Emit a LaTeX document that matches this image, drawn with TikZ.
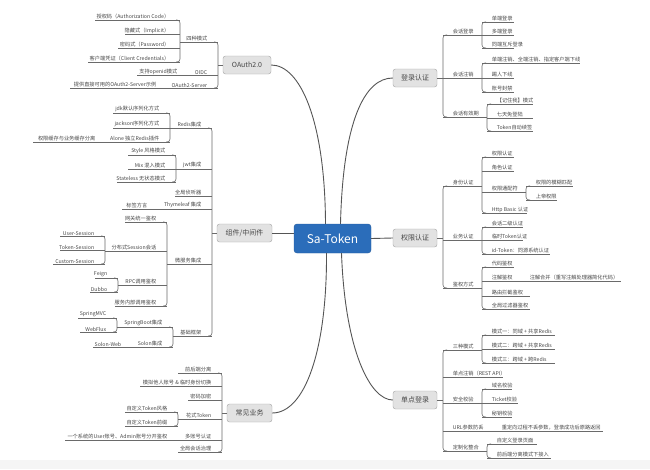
\documentclass[tikz,border=0pt]{standalone}
\usepackage{fontspec}
\setmainfont{Noto Sans CJK SC}
\usetikzlibrary{calc}
\definecolor{twiggray}{HTML}{6A6A6A}
\definecolor{inkgray}{HTML}{474747}
\definecolor{boxgray}{HTML}{E2E2E2}
\definecolor{boxline}{HTML}{A3A3A3}
\definecolor{hubblue}{HTML}{2B6DBA}
\newcommand{\rbrk}[3] {
  \draw[twig, rounded corners=3pt] (#1+4,#2) -- (#1,#2) -- (#1,#3) -- (#1+4,#3); % bracket, opens right
}
\newcommand{\lbrk}[3] {
  \draw[twig, rounded corners=3pt] (#1-4,#2) -- (#1,#2) -- (#1,#3) -- (#1-4,#3); % bracket, opens left
}
\newcommand{\rkids}[2] {
    \foreach \y/\xe/\nm/\txt in {#2} {
      \draw[twig] (#1,\y) -- (\xe,\y);
      \node[leaf, anchor=south west] (\nm) at (#1+9,\y) {\txt};
    }
}
\newcommand{\lkids}[2] {
    \foreach \y/\xs/\nm/\txt in {#2} {
      \draw[twig] (\xs,\y) -- (#1,\y);
      \node[leaf, anchor=south east] (\nm) at (#1-10,\y) {\txt};
    }
}

\begin{document}
\begin{tikzpicture}[x=1pt, y=-1pt,
    twig/.style={draw=twiggray, line width=0.6pt},
    limb/.style={draw=twiggray!80!black, line width=0.9pt},
    leaf/.style={inner sep=0.6pt, text=inkgray, font=\fontsize{5.2}{6}\selectfont},
    branch/.style={draw=boxline, fill=boxgray, rounded corners=2.5pt, minimum height=18pt,
      inner xsep=3pt, text=inkgray, font=\fontsize{7}{8}\selectfont},
    hub/.style={draw=hubblue!85!black, fill=hubblue, rounded corners=3pt, minimum width=77pt,
      minimum height=29pt, text=white, font=\fontsize{12}{14}\selectfont}]
    \useasboundingbox (0,0) rectangle (650,469);
    \fill[gray!8] (0,460) rectangle (650,469);

    \node[hub] (sa) at (332.5,238.5) {Sa-Token};
    \node[branch, minimum width=44pt] (login) at (415,78) {登录认证};
    \node[branch, minimum width=44pt] (perm) at (415,238) {权限认证};
    \node[branch, minimum width=44pt] (sso) at (415,400) {单点登录};
    \node[branch, minimum width=48pt] (oauth) at (247,65) {OAuth2.0};
    \node[branch, minimum width=55pt] (comp) at (244.5,233) {组件/中间件};
    \node[branch, minimum width=45pt] (biz) at (249.5,413) {常见业务};

    \draw[limb] ([xshift=-7pt]sa.north) .. controls (325,120) and (300,65) .. (oauth.east);
    \draw[limb] ([xshift=8pt]sa.north) .. controls (343,120) and (365,78) .. (login.west);
    \draw[limb] ([xshift=-6pt]sa.south) .. controls (327,350) and (305,413) .. (biz.east);
    \draw[limb] ([xshift=9pt]sa.south) .. controls (345,350) and (370,400) .. (sso.west);
    \draw[limb] (sa.east) -- (perm.west);
    \draw[limb] (comp.east) -- (comp.east -| sa.west);

    % 登录认证
    \draw[twig] (login.east) -- ++(6,0);
    \rbrk{443}{35}{117}
    \rkids{443}{35/482/lga/会话登录, 78/482/lgb/会话注销, 117/487/lgc/会话有效期}
    \rbrk{482}{22}{48}
    \rkids{482}{22/514/lga1/单端登录, 35/514/lga2/多端登录, 48/514/lga3/同端互斥登录}
    \rbrk{482}{63}{92}
    \rkids{482}{63/580/lgb1/单端注销、全端注销、指定客户端下线, 78/514/lgb2/踢人下线, 92/514/lgb3/账号封禁}
    \rbrk{487}{104}{131}
    \rkids{487}{104/533/lgc1/【记住我】模式, 118/533/lgc2/七天免登陆, 131/533/lgc3/Token自动续签}

    % 权限认证
    \draw[twig] (perm.east) -- ++(6,0);
    \rbrk{443}{186}{288}
    \rkids{443}{186/482/pma/身份认证, 240/482/pmb/业务认证, 288/482/pmc/鉴权方式}
    \rbrk{482}{157}{213}
    \rkids{482}{157/514/pma1/权限认证, 171/514/pma2/角色认证, 192/526/pma3/权限通配符, 213/527/pma4/Http Basic 认证}
    \rbrk{526}{186}{200}
    \rkids{526}{186/573/pma31/权限的模糊匹配, 200/557/pma32/上帝权限}
    \rbrk{482}{227}{254}
    \rkids{482}{227/523/pmb1/会话二级认证, 240/523/pmb2/临时Token认证, 254/550/pmb3/id-Token：同源系统认证}
    \rbrk{482}{267}{309}
    \rkids{482}{267/514/pmc1/代码鉴权, 281/621/pmc2/注解鉴权, 296/530/pmc3/路由拦截鉴权, 309/530/pmc4/全局过滤器鉴权}
    \node[leaf, anchor=south west] (pmc21) at (529,281) {注解合并（重写注解处理器简化代码）};

    % 单点登录
    \draw[twig] (sso.east) -- ++(6,0);
    \rbrk{443}{350}{451}
    \rkids{443}{350/482/soa/三种模式, 377/503/sob/单点注销（REST API）, 403/482/soc/安全校验, 431/603/sod/URL参数防丢, 451/487/soe/定制化整合}
    \node[leaf, anchor=south west] (sod1) at (501,431) {重定向过程不丢参数，登录成功后原路返回};
    \rbrk{482}{335}{363}
    \rkids{482}{335/555/soa1/模式一：同域 + 共享Redis, 349/555/soa2/模式二：跨域 + 共享Redis, 363/555/soa3/模式三：跨域 + 跨Redis}
    \rbrk{482}{389}{417}
    \rkids{482}{389/512/soc1/域名校验, 403/518/soc2/Ticket校验, 417/512/soc3/秘钥校验}
    \rbrk{487}{444}{458}
    \rkids{487}{444/537/soe1/自定义登录页面, 458/551/soe2/前后端分离模式下接入}

    % OAuth2.0
    \draw[twig] (oauth.west) -- ++(-5,0);
    \lbrk{218}{42}{88}
    \lkids{218}{42/180/oaa/四种模式, 75/137/oab/OIDC, 88/70/oac/OAuth2-Server}
    \node[leaf, anchor=south east] (oab1) at (178,75) {支持openid模式};
    \node[leaf, anchor=south east] (oac1) at (157,88) {提供直接可用的OAuth2-Server示例};
    \lbrk{180}{20}{62}
    \lkids{180}{20/95/oaa1/授权码（Authorization Code）, 34/125/oaa2/隐藏式（Implicit）, 48/118/oaa3/密码式（Password）, 62/88/oaa4/客户端凭证（Client Credentials）}

    % 组件/中间件
    \draw[twig] (comp.west) -- ++(-5,0);
    \lbrk{212}{128}{336}
    \lkids{212}{128/170/cma/Redis集成, 169/176/cmb/jwt集成, 196/175/cmc/全局侦听器, 209/122/cmd/Thymeleaf 集成, 264/167/cme/微服务集成, 336/173/cmf/基础框架}
    \node[leaf, anchor=south east] (cmd1) at (148,209) {标签方言};
    \lbrk{170}{113}{142}
    \lkids{170}{113/113/cma1/jdk默认序列化方式, 128/113/cma2/jackson序列化方式, 142/33/cma3/Alone 独立Redis插件}
    \node[leaf, anchor=south east] (cma31) at (96,142) {权限缓存与业务缓存分离};
    \lbrk{176}{155}{182}
    \lkids{176}{155/128/cmb1/Style 风格模式, 169/128/cmb2/Mix 混入模式, 182/117/cmb3/Stateless 无状态模式}
    \lbrk{167}{222}{306}
    \lkids{167}{222/125/cme1/网关统一鉴权, 251/105/cme2/分布式Session会话, 285/118/cme3/RPC调用鉴权, 306/115/cme4/服务内部调用鉴权}
    \lbrk{105}{236}{264}
    \lkids{105}{236/60/cme21/User-Session, 250/60/cme22/Token-Session, 264/53/cme23/Custom-Session}
    \lbrk{118}{278}{292}
    \lkids{118}{278/95/cme31/Feign, 292/90/cme32/Dubbo}
    \lbrk{173}{327}{347}
    \lkids{173}{327/117/cmf1/SpringBoot集成, 347/93/cmf2/Solon集成}
    \node[leaf, anchor=south east] (cmf21) at (122,347) {Solon-Web};
    \lbrk{117}{318}{332}
    \lkids{117}{318/78/cmf11/SpringMVC, 332/80/cmf12/WebFlux}

    % 常见业务
    \draw[twig] (biz.west) -- ++(-5,0);
    \lbrk{222}{373}{452}
    \lkids{222}{373/178/bza/前后端分离, 386/140/bzb/模拟他人账号 \& 临时身份切换, 400/188/bzc/密码加密, 419/178/bzd/花式Token, 440/65/bze/多账号认证, 452/178/bzf/全局会话治理}
    \node[leaf, anchor=south east] (bze1) at (168,440) {一个系统的User账号、Admin账号分开鉴权};
    \lbrk{178}{412}{426}
    \lkids{178}{412/125/bzd1/自定义Token风格, 426/125/bzd2/自定义Token前缀}
\end{tikzpicture}
\end{document}
